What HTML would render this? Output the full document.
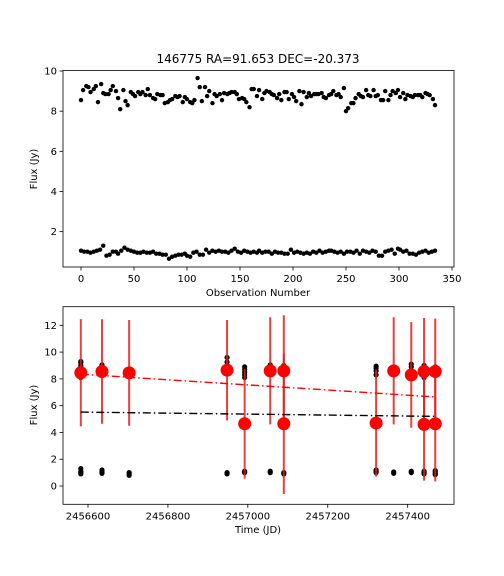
<!DOCTYPE html>
<html><head><meta charset="utf-8"><style>
body{margin:0;background:#fff;}
svg{display:block;font-family:"DejaVu Sans","Liberation Sans",sans-serif;}
</style></head><body>
<svg id="c" width="504" height="576"></svg>
<script>
const upperFlux=[8.55,9.05,9.25,9.2,8.95,9.1,9.25,8.45,9.35,8.9,8.85,8.85,9.05,9.25,9.0,8.65,8.1,9.05,8.5,8.3,8.95,8.85,8.75,8.95,8.85,8.95,8.8,9.1,8.8,8.65,8.6,8.85,8.8,8.8,8.4,8.45,8.55,8.6,8.75,8.7,8.75,8.45,8.7,8.6,8.45,8.4,8.55,9.65,9.2,8.5,9.2,8.75,9.0,8.4,8.85,8.75,8.85,8.55,8.9,8.85,8.9,8.95,8.95,8.85,8.6,8.65,8.6,8.45,8.2,9.1,9.1,8.75,9.05,8.6,8.9,9.0,8.95,8.85,8.8,8.65,8.85,8.55,8.95,8.95,8.6,8.85,8.7,8.5,9.0,8.35,8.95,8.7,8.9,8.75,8.85,8.85,8.85,8.9,8.7,8.65,8.8,8.85,9.0,8.8,8.85,8.7,9.15,8.0,8.15,8.4,8.4,8.65,8.85,8.75,8.7,9.05,8.8,8.75,9.05,8.75,8.8,8.55,8.55,9.0,8.55,8.8,9.0,8.9,9.05,8.7,8.9,8.6,8.8,8.75,8.7,8.8,8.8,8.8,8.7,8.9,8.85,8.8,8.6,8.3];
const lowerFlux=[1.05,1.0,1.0,0.95,1.0,1.05,1.1,1.3,0.8,0.85,1.0,1.0,0.9,1.05,1.2,1.1,1.05,1.0,0.95,0.95,1.0,0.95,0.95,1.0,0.9,0.9,0.85,0.85,0.65,0.75,0.8,0.85,0.85,0.9,0.8,0.75,0.95,1.0,0.85,0.85,1.1,0.95,1.05,1.0,1.05,1.0,1.0,0.95,1.05,1.15,1.0,0.95,1.05,1.0,0.95,1.0,0.95,1.05,0.95,1.0,1.0,0.9,1.0,0.95,0.95,0.9,0.9,1.1,0.95,1.0,0.95,0.9,0.95,0.9,1.0,0.95,1.05,0.95,1.0,1.05,1.05,1.0,0.95,1.0,0.9,1.0,1.0,0.95,1.05,0.9,1.05,1.0,0.95,1.05,1.0,0.8,0.8,1.0,1.05,1.1,0.9,1.15,1.1,1.0,1.05,0.9,0.9,0.85,0.95,1.0,1.05,0.95,1.0,1.05];
const lastObs=334;
const topXTicks=[0,50,100,150,200,250,300,350];
const topYTicks=[2,4,6,8,10];
const redJD=[2456582,2456635,2456703,2456948,2456992,2457056,2457090,2457090,2457321,2457365,2457409,2457441,2457441,2457469,2457469];
const redFlux=[8.46,8.55,8.45,8.65,4.65,8.6,8.6,4.65,4.7,8.6,8.3,8.55,4.6,8.55,4.65];
const redErr=[4.0,3.9,3.95,3.75,4.1,4.0,4.15,5.25,4.0,4.0,3.95,4.0,4.2,3.95,4.3];
const clusterJD=[2456582,2456635,2456703,2456948,2456992,2457056,2457090,2457321,2457365,2457409,2457441,2457469];
const clusterHigh=[[8.1,8.6,8.9,9.0,9.2,9.3],[8.6,8.9,9.05],[8.3,8.5],[9.0,9.25,9.6],[8.1,8.3,8.5,8.7,8.9],[8.7,8.9,9.05],[8.4,8.8,9.0],[8.3,8.6,8.8,8.95],[8.4,8.6],[8.6,8.9,9.1],[8.1,8.5,9.0],[8.5,8.9]];
const clusterLow=[[0.9,1.0,1.1,1.3],[0.95,1.05,1.2],[0.8,0.9,1.0],[0.9,1.0],[1.0,1.1],[1.0,1.1],[0.9,1.0],[1.0,1.1,1.2],[0.95,1.05],[1.0,1.1],[0.9,1.0,1.1],[0.85,0.95,1.05,1.15]];
const redFit=[8.35,6.65];
const blackFit=[5.52,5.2];
const botXTicks=[2456600,2456800,2457000,2457200,2457400];
const botYTicks=[0,2,4,6,8,10,12];

const NS='http://www.w3.org/2000/svg';
const svg=document.getElementById('c');
function mk(t,a,p){const e=document.createElementNS(NS,t);for(const k in a)e.setAttribute(k,a[k]);(p||svg).appendChild(e);return e;}
function txt(s,a,p){const e=mk('text',a,p);e.textContent=s;return e;}

// top axes
const T={l:63,r:454,t:70.5,b:267};
const tx=v=>81+v*1.06, ty=v=>71+(10-v)*20.08;
const g1=mk('g',{});


txt('146775 RA=91.653 DEC=-20.373',{x:258,y:63,'text-anchor':'middle','font-size':12},g1);
upperFlux.forEach((v,i)=>{const c=mk('circle',{cx:tx(Math.round(i*lastObs/(upperFlux.length-1))),cy:ty(v),r:2.2,fill:'#000'},g1);});
lowerFlux.forEach((v,i)=>{const c=mk('circle',{cx:tx(Math.round(i*lastObs/(lowerFlux.length-1))),cy:ty(v),r:2.2,fill:'#000'},g1);});
mk('rect',{x:T.l,y:T.t,width:T.r-T.l,height:T.b-T.t,fill:'none',stroke:'#000','stroke-width':0.8},g1);
topXTicks.forEach(v=>{const x=tx(v);mk('line',{x1:x,x2:x,y1:T.b,y2:T.b+3.5,stroke:'#000','stroke-width':0.8},g1);const t=txt(v,{x:x,y:T.b+15,'text-anchor':'middle','font-size':10},g1);});
topYTicks.forEach(v=>{const y=ty(v);mk('line',{x1:T.l,x2:T.l-3.5,y1:y,y2:y,stroke:'#000','stroke-width':0.8},g1);const t=txt(v,{x:T.l-6,y:y+3.5,'text-anchor':'end','font-size':10},g1);});
txt('Observation Number',{x:258,y:296,'text-anchor':'middle','font-size':10},g1);
txt('Flux (Jy)',{x:0,y:0,'text-anchor':'middle','font-size':10,transform:'translate(37,169) rotate(-90)'},g1);

// bottom axes
const B={l:63,r:454,t:306.7,b:504.3};
const bx=v=>88+(v-2456600)*0.3996, by=v=>486-v*13.39;
const g2=mk('g',{});


clusterJD.forEach((j,i)=>{clusterHigh[i].concat(clusterLow[i]).forEach(v=>{const c=mk('circle',{cx:bx(j),cy:by(v),r:2.6,fill:'#000'},g2);});});
redJD.forEach((j,i)=>{const l=mk('line',{x1:bx(j),x2:bx(j),y1:by(redFlux[i]-redErr[i]),y2:by(redFlux[i]+redErr[i]),stroke:'#e02020','stroke-width':2,'stroke-opacity':0.85},g2);});
const x0=redJD[0],x1=redJD[redJD.length-1];
const f1=mk('line',{x1:bx(x0),x2:bx(x1),y1:by(redFit[0]),y2:by(redFit[1]),stroke:'#f00','stroke-width':1.4,'stroke-dasharray':'8,3,1.5,3'},g2);
const f2=mk('line',{x1:bx(x0),x2:bx(x1),y1:by(blackFit[0]),y2:by(blackFit[1]),stroke:'#000','stroke-width':1.4,'stroke-dasharray':'8,3,1.5,3'},g2);
redJD.forEach((j,i)=>{const c=mk('circle',{cx:bx(j),cy:by(redFlux[i]),r:6.5,fill:'#f00'},g2);});
mk('rect',{x:B.l,y:B.t,width:B.r-B.l,height:B.b-B.t,fill:'none',stroke:'#000','stroke-width':0.8},g2);
botXTicks.forEach(v=>{const x=bx(v);mk('line',{x1:x,x2:x,y1:B.b,y2:B.b+3.5,stroke:'#000','stroke-width':0.8},g2);const t=txt(v,{x:x,y:B.b+15,'text-anchor':'middle','font-size':10},g2);});
botYTicks.forEach(v=>{const y=by(v);mk('line',{x1:B.l,x2:B.l-3.5,y1:y,y2:y,stroke:'#000','stroke-width':0.8},g2);const t=txt(v,{x:B.l-6,y:y+3.5,'text-anchor':'end','font-size':10},g2);});
txt('Time (JD)',{x:258,y:533,'text-anchor':'middle','font-size':10},g2);
txt('Flux (Jy)',{x:0,y:0,'text-anchor':'middle','font-size':10,transform:'translate(37,405) rotate(-90)'},g2);
</script>
</body></html>
